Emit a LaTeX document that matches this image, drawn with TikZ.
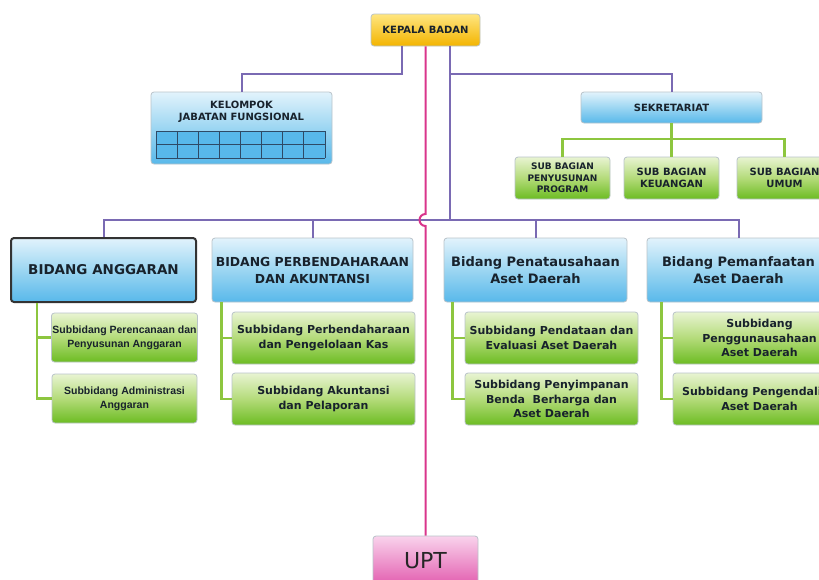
\documentclass[tikz,border=0pt]{standalone}
\usepackage{fontspec}
\setmainfont{DejaVu Sans}
\newfontfamily\narrowfont{Liberation Sans}
\usetikzlibrary{calc}

\definecolor{blueTop}{HTML}{E2F3FC}
\definecolor{blueMid}{HTML}{9CD6F2}
\definecolor{blueBot}{HTML}{58B8EA}
\definecolor{greenTop}{HTML}{E8F4D2}
\definecolor{greenMid}{HTML}{B4DB7A}
\definecolor{greenBot}{HTML}{6CBC22}
\definecolor{goldTop}{HTML}{FFE680}
\definecolor{goldBot}{HTML}{F3B400}
\definecolor{pinkTop}{HTML}{F9D3EC}
\definecolor{pinkBot}{HTML}{E25BAE}
\definecolor{purpleLine}{HTML}{7A6AB3}
\definecolor{greenLine}{HTML}{8DC63F}
\definecolor{pinkLine}{HTML}{D9358C}
\definecolor{boxEdge}{HTML}{B9C3C9}
\definecolor{txtDark}{HTML}{18222C}
\definecolor{gridLine}{HTML}{2E4A66}

\tikzset{
  orgbox/.style={rectangle, rounded corners=3pt, draw=boxEdge, line width=0.8pt,
    align=center, inner sep=1pt, text=txtDark},
  bluebox/.style={orgbox, top color=blueTop, bottom color=blueBot, middle color=blueMid},
  greenbox/.style={orgbox, top color=greenTop, bottom color=greenBot, middle color=greenMid},
  goldbox/.style={orgbox, top color=goldTop, bottom color=goldBot},
  pinkbox/.style={orgbox, top color=pinkTop, bottom color=pinkBot},
  bidang/.style={bluebox, minimum width=183pt, minimum height=64pt,
    font=\fontsize{13}{17}\selectfont\bfseries},
  subbid/.style={greenbox, minimum width=173pt, minimum height=52pt,
    font=\fontsize{11}{14.5}\selectfont\bfseries},
  subbag/.style={greenbox, minimum width=95pt, minimum height=42pt,
    font=\fontsize{10}{11.5}\selectfont\bfseries},
  purpleline/.style={draw=purpleLine, line width=2pt},
  greenline/.style={draw=greenLine, line width=2.5pt},
  pinkline/.style={draw=pinkLine, line width=2pt},
  gridline/.style={draw=gridLine, line width=0.8pt}
}

\begin{document}
\begin{tikzpicture}[x=1pt, y=-1pt]
\useasboundingbox (0,0) rectangle (819,579);
\clip (0,0) rectangle (819,579);

  % top
  \node[goldbox, minimum width=109pt, minimum height=32pt,
    font=\fontsize{10}{12}\selectfont\bfseries] (kepala) at (425.5,30) {KEPALA BADAN};

  \node[bluebox, minimum width=181pt, minimum height=72pt] (kelompok) at (241.5,128) {};
  \node[font=\fontsize{10}{12}\selectfont\bfseries, text=txtDark, align=center]
    (kelompoklbl) at ($(kelompok.north)+(0,20)$) {KELOMPOK\\JABATAN FUNGSIONAL};
  \fill[blueBot] (156,131) rectangle (325,158);
  \foreach \c in {0,...,8} {%
    \draw[gridline] ({156+\c*21.125},131) -- ({156+\c*21.125},158);
  }
  \foreach \r in {0,1,2} {%
    \draw[gridline] (156,{131+\r*13.5}) -- (325,{131+\r*13.5});
  }

  \node[bluebox, minimum width=181pt, minimum height=31pt,
    font=\fontsize{10}{12}\selectfont\bfseries] (sekretariat) at (671.5,107.5) {SEKRETARIAT};
  \node[subbag, font=\fontsize{9}{11.5}\selectfont\bfseries] (sb1) at (562.5,178) {SUB BAGIAN\\PENYUSUNAN\\PROGRAM};
  \node[subbag] (sb2) at (671.5,178) {SUB BAGIAN\\KEUANGAN};
  \node[subbag] (sb3) at (784.5,178) {SUB BAGIAN\\UMUM};

  % bidang
  \node[bidang, minimum width=185pt, draw=black!80, line width=2pt,
    font=\fontsize{13.5}{16}\selectfont\bfseries] (anggaran) at (103.5,270) {BIDANG ANGGARAN};
  \node[bidang, minimum width=201pt, font=\fontsize{12.4}{17}\selectfont\bfseries]
    (perbend) at (312.5,270) {BIDANG PERBENDAHARAAN\\DAN AKUNTANSI};
  \node[bidang] (penata) at (535.5,270) {Bidang Penatausahaan\\Aset Daerah};
  \node[bidang] (pemanf) at (738.5,270) {Bidang Pemanfaatan\\Aset Daerah};

  % subbidang
  \node[subbid, minimum width=145pt, minimum height=49pt,
    font=\narrowfont\fontsize{10.5}{14}\selectfont\bfseries] (ang1) at (124.5,337.5) {Subbidang Perencanaan dan\\Penyusunan Anggaran};
  \node[subbid, minimum width=145pt, minimum height=49pt,
    font=\narrowfont\fontsize{10.5}{14}\selectfont\bfseries] (ang2) at (124.5,398.5) {Subbidang Administrasi\\Anggaran};
  \node[subbid, minimum width=183pt] (pbd1) at (323.5,338) {Subbidang Perbendaharaan\\dan Pengelolaan Kas};
  \node[subbid, minimum width=183pt] (pbd2) at (323.5,399) {Subbidang Akuntansi\\dan Pelaporan};
  \node[subbid] (pnt1) at (551.5,338) {Subbidang Pendataan dan\\Evaluasi Aset Daerah};
  \node[subbid] (pnt2) at (551.5,399) {Subbidang Penyimpanan\\Benda\ \ Berharga dan\\Aset Daerah};
  \node[subbid] (pmf1) at (759.5,338) {Subbidang\\Penggunausahaan\\Aset Daerah};
  \node[subbid] (pmf2) at (759.5,399) {Subbidang Pengendalian\\Aset Daerah};

  \node[pinkbox, minimum width=105pt, minimum height=50pt,
    font=\fontsize{22}{26}\selectfont, text=black!85] (upt) at (425.5,561) {UPT};

  % connectors
  \coordinate (topjoin) at (450,74);
  \coordinate (bidbus) at (450,220);
  \coordinate (sekbus) at (671.5,139);

  \draw[purpleline] ([xshift=-23.5pt]kepala.south) |- (topjoin -| kelompok.north) -- (kelompok.north);
  \draw[purpleline] (kepala.south -| bidbus) -- (bidbus);
  \draw[purpleline] (topjoin) -| (sekretariat.north);
  \draw[purpleline] (anggaran.north) |- (bidbus) -| (pemanf.north);
  \foreach \b in {perbend, penata} {%
    \draw[purpleline] (\b.north) -- (\b.north |- bidbus);
  }

  \draw[greenline] (sekretariat.south) -- (sekbus);
  \draw[greenline] (sb1.north) |- (sekbus) -| (sb3.north);
  \draw[greenline] (sb2.north) -- (sb2.north |- sekbus);

  \foreach \b/\kid/\d in {anggaran/ang/27, perbend/pbd/10, penata/pnt/9, pemanf/pmf/15} {%
    \draw[greenline] ([xshift=\d pt]\b.south west) |- (\kid1.west);
    \draw[greenline] ([xshift=\d pt]\b.south west) |- (\kid2.west);
  }

  \draw[pinkline] (kepala.south) -- ($(kepala.south |- bidbus)+(0,-6)$)
    arc[start angle=270, end angle=90, radius=6] -- (upt.north);
\end{tikzpicture}
\end{document}
